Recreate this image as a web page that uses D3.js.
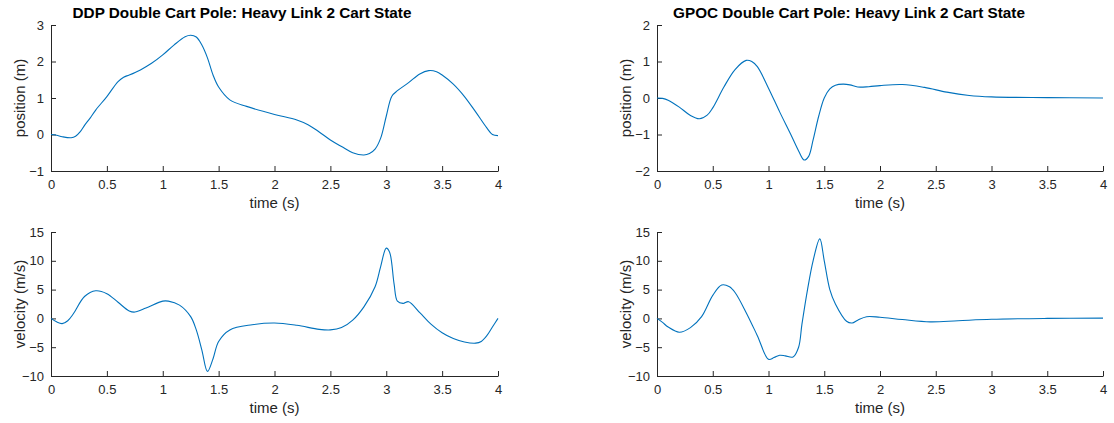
<!DOCTYPE html>
<html>
<head>
<meta charset="utf-8">
<script src="https://cdn.jsdelivr.net/npm/d3@7"></script>
<style>
  body { margin: 0; background: #fff; }
  svg { display: block; }
  text { font-family: "Liberation Sans", Arial, Helvetica, sans-serif; fill: #262626; }
</style>
</head>
<body>
<svg id="chart" width="1114" height="423"></svg>
<script>
// ---------- data ----------
const titles = ["DDP Double Cart Pole: Heavy Link 2 Cart State", "GPOC Double Cart Pole: Heavy Link 2 Cart State"];
const xTicks = [0, 0.5, 1, 1.5, 2, 2.5, 3, 3.5, 4];
const xLabel = "time (s)";
const posLabel = "position (m)";
const velLabel = "velocity (m/s)";
const ddpPosTicks = [-1, 0, 1, 2, 3];
const gpocPosTicks = [-2, -1, 0, 1, 2];
const velTicks = [-10, -5, 0, 5, 10, 15];

const ddpPosT = [0, 0.05, 0.1, 0.18, 0.22, 0.26, 0.3, 0.35, 0.4, 0.5, 0.6, 0.65, 0.7, 0.8, 0.9, 1.0, 1.1, 1.2, 1.25, 1.3, 1.35, 1.4, 1.45, 1.5, 1.6, 1.75, 2.0, 2.2, 2.3, 2.4, 2.5, 2.6, 2.7, 2.8, 2.85, 2.9, 2.95, 3.0, 3.05, 3.1, 3.2, 3.3, 3.38, 3.45, 3.5, 3.6, 3.7, 3.8, 3.9, 3.95, 4.0];
const ddpPos  = [0, -0.02, -0.06, -0.09, -0.05, 0.07, 0.25, 0.45, 0.67, 1.04, 1.45, 1.57, 1.63, 1.77, 1.95, 2.18, 2.45, 2.68, 2.72, 2.67, 2.45, 2.1, 1.63, 1.3, 0.95, 0.77, 0.55, 0.4, 0.27, 0.07, -0.15, -0.33, -0.5, -0.56, -0.52, -0.4, -0.1, 0.5, 1.05, 1.2, 1.42, 1.66, 1.75, 1.72, 1.63, 1.38, 1.04, 0.62, 0.18, 0.0, -0.03];

const ddpVelT = [0, 0.05, 0.1, 0.15, 0.2, 0.3, 0.4, 0.5, 0.6, 0.7, 0.75, 0.85, 1.0, 1.05, 1.15, 1.25, 1.3, 1.35, 1.4, 1.45, 1.5, 1.6, 1.8, 2.0, 2.2, 2.4, 2.5, 2.6, 2.7, 2.8, 2.9, 2.95, 3.0, 3.03, 3.07, 3.1, 3.15, 3.2, 3.3, 3.4, 3.5, 3.6, 3.7, 3.8, 3.85, 3.9, 3.95, 4.0];
const ddpVel  = [0, -0.6, -0.9, -0.4, 0.8, 3.8, 4.8, 4.3, 2.8, 1.3, 1.1, 1.8, 3.0, 3.0, 2.3, 0.3, -2.0, -5.5, -9.2, -7.0, -4.0, -2.0, -1.1, -0.8, -1.2, -1.9, -2.0, -1.6, -0.3, 2.0, 5.5, 9.0, 12.2, 11.5, 6.0, 3.0, 2.6, 2.9, 1.0, -1.0, -2.5, -3.5, -4.1, -4.3, -4.0, -3.0, -1.5, 0];

const gpocPosT = [0, 0.05, 0.1, 0.2, 0.3, 0.38, 0.45, 0.5, 0.6, 0.7, 0.8, 0.85, 0.9, 1.0, 1.1, 1.2, 1.27, 1.32, 1.36, 1.4, 1.45, 1.5, 1.55, 1.6, 1.67, 1.73, 1.8, 1.9, 2.0, 2.2, 2.4, 2.6, 2.8, 3.0, 3.5, 4.0];
const gpocPos  = [0, -0.01, -0.06, -0.25, -0.48, -0.57, -0.47, -0.27, 0.3, 0.78, 1.03, 1.0, 0.86, 0.27, -0.38, -1.0, -1.45, -1.7, -1.6, -1.15, -0.5, 0.0, 0.25, 0.35, 0.38, 0.36, 0.3, 0.31, 0.34, 0.37, 0.29, 0.16, 0.07, 0.03, 0.01, 0.0];

const gpocVelT = [0, 0.05, 0.1, 0.2, 0.3, 0.4, 0.5, 0.58, 0.65, 0.7, 0.8, 0.9, 1.0, 1.05, 1.1, 1.15, 1.22, 1.27, 1.3, 1.35, 1.4, 1.46, 1.5, 1.55, 1.6, 1.7, 1.75, 1.8, 1.88, 2.0, 2.2, 2.45, 2.7, 3.0, 3.5, 4.0];
const gpocVel  = [0, -0.7, -1.5, -2.4, -1.6, 0.3, 4.0, 5.8, 5.5, 4.5, 1.0, -3.0, -7.1, -6.8, -6.4, -6.5, -6.7, -5.0, -1.0, 5.0, 10.0, 13.8, 10.0, 5.0, 2.5, -0.5, -0.8, -0.3, 0.3, 0.2, -0.2, -0.6, -0.4, -0.15, 0.0, 0.05];

// ---------- drawing ----------
const svg = d3.select("#chart");
const axisColor = "#262626";
const lineColor = "#0072BD";

const panels = [
  { x0: 51,  x1: 498,  y0: 25,  y1: 171, dom: [-1, 3],   ticks: ddpPosTicks,  t: ddpPosT,  v: ddpPos,  ylab: posLabel, title: titles[0], titleX: 242 },
  { x0: 51,  x1: 498,  y0: 232, y1: 376, dom: [-10, 15], ticks: velTicks,     t: ddpVelT,  v: ddpVel,  ylab: velLabel },
  { x0: 657, x1: 1103, y0: 25,  y1: 171, dom: [-2, 2],   ticks: gpocPosTicks, t: gpocPosT, v: gpocPos, ylab: posLabel, title: titles[1], titleX: 849 },
  { x0: 657, x1: 1103, y0: 232, y1: 376, dom: [-10, 15], ticks: velTicks,     t: gpocVelT, v: gpocVel, ylab: velLabel }
];

panels.forEach(p => {
  const x = d3.scaleLinear().domain([0, 4]).range([p.x0, p.x1]);
  const y = d3.scaleLinear().domain(p.dom).range([p.y1, p.y0]);
  const g = svg.append("g");

  const xa = g.append("g").attr("transform", `translate(0,${p.y1})`)
    .call(d3.axisBottom(x).tickValues(xTicks).tickFormat(d3.format("")).tickSizeInner(-5).tickSizeOuter(0).tickPadding(9));
  const ya = g.append("g").attr("transform", `translate(${p.x0},0)`)
    .call(d3.axisLeft(y).tickValues(p.ticks).tickFormat(d3.format("")).tickSizeInner(-5).tickSizeOuter(0).tickPadding(7));
  [xa, ya].forEach(a => {
    a.select(".domain").attr("stroke", axisColor).attr("stroke-width", 1);
    a.selectAll(".tick line").attr("stroke", axisColor).attr("stroke-width", 1);
    a.selectAll(".tick text").attr("fill", axisColor).style("font-size", "13px").style("font-family", '"Liberation Sans", Arial, sans-serif');
  });

  const line = d3.line().x((d, i) => x(p.t[i])).y(d => y(d)).curve(d3.curveCatmullRom.alpha(0.5));
  g.append("path").datum(p.v).attr("d", line)
    .attr("fill", "none").attr("stroke", lineColor).attr("stroke-width", 1.1);

  g.append("text").attr("x", (p.x0 + p.x1) / 2).attr("y", p.y1 + 37)
    .attr("text-anchor", "middle").style("font-size", "15px").text(xLabel);
  g.append("text").attr("transform", `translate(${p.x0 - 26.5},${(p.y0 + p.y1) / 2}) rotate(-90)`)
    .attr("text-anchor", "middle").style("font-size", "15px").text(p.ylab);
  if (p.title) {
    g.append("text").attr("x", p.titleX).attr("y", 18)
      .attr("text-anchor", "middle").style("font-size", "15.3px").style("font-weight", "bold")
      .style("fill", "#000").text(p.title);
  }
});
</script>
</body>
</html>
